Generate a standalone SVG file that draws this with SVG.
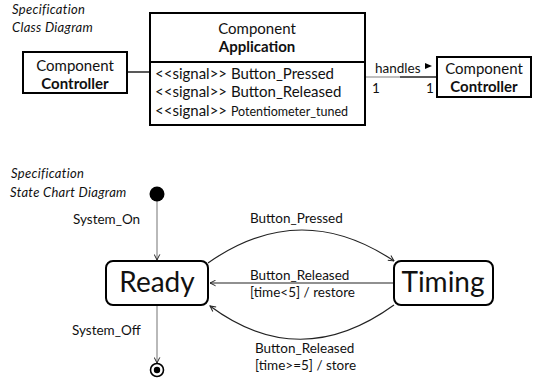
<svg xmlns="http://www.w3.org/2000/svg" width="533" height="381" viewBox="0 0 533 381">
  <style>
    text { font-family: Lato, "Open Sans", "Liberation Sans", sans-serif; fill: #111; }
    .cap { font-size: 13px; font-style: italic; letter-spacing: 0.3px; }
    .lbl { font-size: 15px; }
    .sm { font-size: 12.5px; }
    .b { font-weight: bold; }
    .box { fill: #fff; stroke: #000; stroke-width: 2; }
    .state { fill: #fff; stroke: #000; stroke-width: 2; }
    .tr { fill: none; stroke: #222; stroke-width: 1.2; }
    .gray { fill: none; stroke: #a8a8a8; stroke-width: 1.6; }
    .st { font-size: 28px; }
    .tl { font-size: 13.5px; }
  </style>
  <defs>
    <marker id="open" viewBox="0 0 10 10" refX="9" refY="5" markerWidth="7" markerHeight="7" orient="auto" markerUnits="userSpaceOnUse">
      <path d="M1,1 L9,5 L1,9" fill="none" stroke="#222" stroke-width="1.4"/>
    </marker>
  </defs>

  <!-- captions -->
  <text class="cap" x="12" y="14">Specification</text>
  <text class="cap" x="12" y="32">Class Diagram</text>
  <text class="cap" x="11" y="178">Specification</text>
  <text class="cap" x="10" y="197">State Chart Diagram</text>

  <!-- connectors -->
  <g id="connectors">
    <line x1="127" y1="72" x2="150" y2="72" stroke="#222" stroke-width="1.5"/>
    <line x1="366" y1="77" x2="400" y2="77" stroke="#aaa" stroke-width="1.5"/>
    <line x1="400" y1="77" x2="437" y2="77" stroke="#222" stroke-width="1.5"/>
    <polygon points="425,63 432,66 425,69" fill="#000"/>
    <text class="tl" x="375" y="73">handles</text>
    <text class="tl" x="372" y="93">1</text>
    <text class="tl" x="426" y="93">1</text>

    <line class="gray" x1="157" y1="201" x2="157" y2="260" marker-end="url(#open)"/>
    <line class="gray" x1="157" y1="306" x2="157" y2="363" marker-end="url(#open)"/>
    <path class="tr" d="M208,263 Q300,198 394,261" marker-end="url(#open)"/>
    <line class="tr" x1="394" y1="283" x2="210" y2="283" marker-end="url(#open)"/>
    <path class="tr" d="M394,305 Q300,373 210,306" marker-end="url(#open)"/>

    <text class="tl" x="73" y="224">System_On</text>
    <text class="tl" x="72" y="335">System_Off</text>
    <text class="tl" x="250" y="223">Button_Pressed</text>
    <text class="tl" x="250" y="280">Button_Released</text>
    <text class="tl" x="250" y="297">[time&lt;5] / restore</text>
    <text class="tl" x="255" y="353">Button_Released</text>
    <text class="tl" x="255" y="370">[time&gt;=5] / store</text>
  </g>

  <!-- class: Application -->
  <g id="application">
    <rect class="box" x="150" y="13" width="215" height="112"/>
    <line x1="150" y1="62" x2="365" y2="62" stroke="#000" stroke-width="2"/>
    <text class="lbl" x="257" y="34" text-anchor="middle">Component</text>
    <text class="lbl b" x="257" y="52" text-anchor="middle">Application</text>
    <text class="lbl" x="155" y="79">&lt;&lt;signal&gt;&gt; Button_Pressed</text>
    <text class="lbl" x="155" y="97">&lt;&lt;signal&gt;&gt; Button_Released</text>
    <text x="155" y="116"><tspan class="lbl">&lt;&lt;signal&gt;&gt; </tspan><tspan class="sm">Potentiometer_tuned</tspan></text>
  </g>

  <!-- class: left Controller -->
  <g id="controller-left">
    <rect class="box" x="23" y="52" width="104" height="41"/>
    <text class="lbl" x="75" y="71" text-anchor="middle">Component</text>
    <text class="lbl b" x="75" y="89" text-anchor="middle">Controller</text>
  </g>

  <!-- class: right Controller -->
  <g id="controller-right">
    <rect class="box" x="437" y="57" width="94" height="40"/>
    <text class="lbl" x="484" y="74" text-anchor="middle">Component</text>
    <text class="lbl b" x="484" y="92" text-anchor="middle">Controller</text>
  </g>

  <!-- states -->
  <g id="initial">
    <circle cx="157" cy="194" r="7.5" fill="#000"/>
  </g>
  <g id="ready">
    <rect class="state" x="106" y="261" width="102" height="44" rx="7"/>
    <text class="st" x="157" y="292" text-anchor="middle">Ready</text>
  </g>
  <g id="timing">
    <rect class="state" x="394" y="261" width="99" height="44" rx="7"/>
    <text class="st" x="443" y="292" text-anchor="middle">Timing</text>
  </g>
  <g id="final">
    <circle cx="157" cy="370" r="6.5" fill="#fff" stroke="#000" stroke-width="1.6"/>
    <circle cx="157" cy="370" r="3.2" fill="#000"/>
  </g>
</svg>
